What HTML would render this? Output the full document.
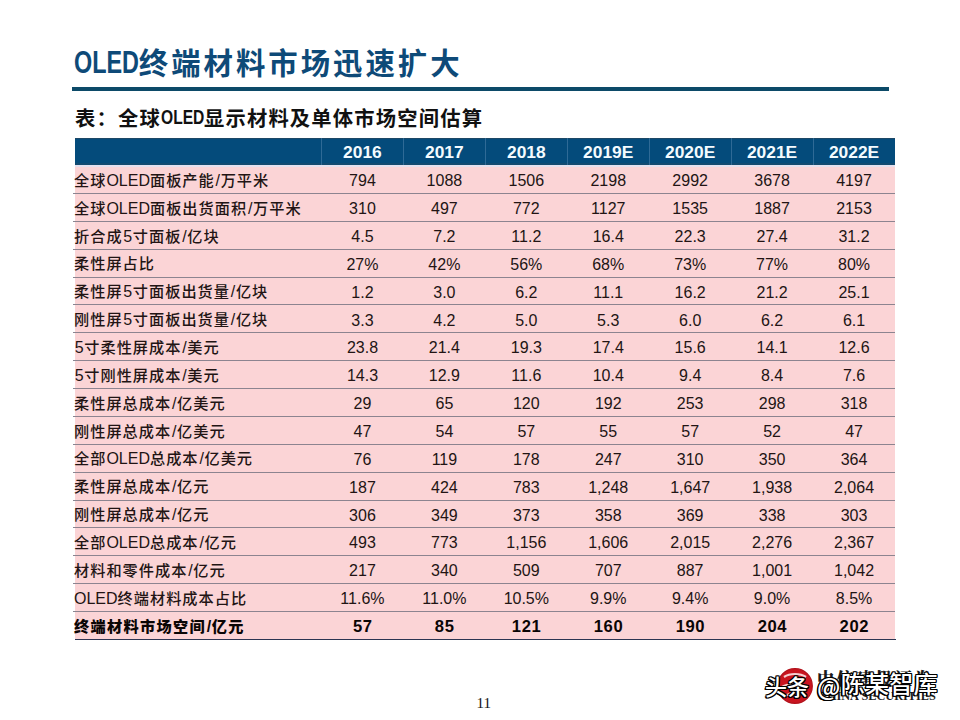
<!DOCTYPE html>
<html lang="zh-CN"><head><meta charset="utf-8">
<title>OLED终端材料市场迅速扩大</title>
<style>
html,body{margin:0;padding:0;background:#fff;}
body{width:960px;height:720px;position:relative;overflow:hidden;font-family:"Liberation Sans","Noto Sans CJK SC",sans-serif;}
div{position:absolute;box-sizing:border-box;white-space:nowrap;}
.title{left:73.75px;top:40px;font-size:32px;line-height:40px;color:#0e4a78;font-weight:bold;font-family:"Noto Sans CJK SC",sans-serif;}
.en{display:inline-block;font-family:"Liberation Sans",sans-serif;font-weight:bold;transform-origin:0 50%;overflow:visible;}
.title .en{width:65px;font-size:31.8px;transform:scaleX(.735);vertical-align:top;line-height:40px;position:relative;top:2.3px;}
.title .cj{font-size:29.4px;letter-spacing:3px;vertical-align:top;line-height:40px;position:relative;top:1px;}
.rule{left:72px;top:87px;width:816.5px;height:3.7px;background:#0c4a68;}
.sub{left:75px;top:103px;font-size:21.5px;line-height:28px;color:#111;font-weight:bold;font-family:"Noto Sans CJK SC",sans-serif;}
.sub .en{width:43px;font-size:20px;transform:scaleX(.78);vertical-align:top;line-height:28px;position:relative;top:0.3px;}
.sub .cj{font-size:20.3px;letter-spacing:1.2px;vertical-align:top;line-height:28px;}
.hd{background:#044b7b;border-top:1px solid #1d4866;border-bottom:2px solid #124a70;}
.hw{height:1.7px;background:#e4e0ee;}
.vs{width:1px;background:#2f6a96;}
.ht{text-align:center;color:#f4fbff;font-weight:bold;font-size:17.4px;padding-top:1px;}
.bd{background:#fbd4d6;}
.hl{height:1px;background:#8c8490;}
.bb{height:1.3px;background:#2c3552;}
.lb{font-size:16px;color:#221414;padding-top:1.6px;margin-left:-1px;}
.lb .c{font-size:15.2px;letter-spacing:1px;font-weight:500;}
.lb .sl{margin:0 0.6px 0 0.9px;}
.lb .dg{margin:0 0.7px;}
.lb.b{padding-top:2.1px;}
.lb.b .c{font-weight:900;letter-spacing:1.3px;}
.nv.b{padding-top:2.5px;font-size:16.6px;letter-spacing:0.6px;text-indent:0.6px;}
.nv{font-size:16px;color:#221414;text-align:center;padding-top:2.1px;}
.b{font-weight:bold;color:#0a0505;}
.logo-c{left:776px;top:667.3px;width:38px;height:38px;}
.logo-c svg{display:block;}
.logo-t{left:817px;top:666px;font-family:"Noto Serif CJK SC",serif;font-weight:900;font-size:17px;line-height:24px;letter-spacing:2.5px;color:#1a1a1a;}
.logo-e{left:818px;top:687.5px;font-family:"Liberation Serif",serif;font-weight:bold;font-size:12.3px;line-height:16px;letter-spacing:0px;color:#1a1a1a;}
.wm{left:765px;top:668.5px;font-family:"Noto Sans CJK SC",sans-serif;font-weight:500;font-size:22px;line-height:32px;color:#fff;
text-shadow:-1.6px 1.4px 0 #000,1px 1px 0 #000,-1px -1px 0 #000,1px -1px 0 #000,-1px 1px 0 #000,0 1px 0 #000,0 -1px 0 #000,1px 0 0 #000,-1px 0 0 #000;}
.wm.at{left:817px;top:667px;font-size:24px;letter-spacing:0.3px;}
.wm .a{position:relative;top:3px;}
.pg{left:476.5px;top:693px;font-family:"Liberation Serif",serif;font-size:15px;line-height:20px;color:#111;}
</style></head><body>
<div class="title"><span class="en">OLED</span><span class="cj">终端材料市场迅速扩大</span></div>
<div class="rule"></div>
<div class="sub"><span class="cj">表：全球</span><span class="en">OLED</span><span class="cj">显示材料及单体市场空间估算</span></div>
<div class="hd" style="left:75px;top:138px;width:820px;height:27.3px"></div>
<div class="vs" style="left:321px;top:138px;height:27.3px"></div>
<div class="ht" style="left:321.5px;top:138px;width:81.93px;height:27.3px;line-height:27.3px">2016</div>
<div class="vs" style="left:402.93px;top:138px;height:27.3px"></div>
<div class="ht" style="left:403.43px;top:138px;width:81.93px;height:27.3px;line-height:27.3px">2017</div>
<div class="vs" style="left:484.86px;top:138px;height:27.3px"></div>
<div class="ht" style="left:485.36px;top:138px;width:81.93px;height:27.3px;line-height:27.3px">2018</div>
<div class="vs" style="left:566.79px;top:138px;height:27.3px"></div>
<div class="ht" style="left:567.29px;top:138px;width:81.93px;height:27.3px;line-height:27.3px">2019E</div>
<div class="vs" style="left:648.71px;top:138px;height:27.3px"></div>
<div class="ht" style="left:649.21px;top:138px;width:81.93px;height:27.3px;line-height:27.3px">2020E</div>
<div class="vs" style="left:730.64px;top:138px;height:27.3px"></div>
<div class="ht" style="left:731.14px;top:138px;width:81.93px;height:27.3px;line-height:27.3px">2021E</div>
<div class="vs" style="left:812.57px;top:138px;height:27.3px"></div>
<div class="ht" style="left:813.07px;top:138px;width:81.93px;height:27.3px;line-height:27.3px">2022E</div>
<div class="bd" style="left:75px;top:165.3px;width:820px;height:473.45px"></div>
<div class="lb" style="left:75px;top:165.3px;height:27.85px;line-height:27.85px"><span class="c">全球</span>OLED<span class="c">面板产能</span><span class="sl">/</span><span class="c">万平米</span></div>
<div class="nv" style="left:321.5px;top:165.3px;width:81.93px;height:27.85px;line-height:27.85px">794</div>
<div class="nv" style="left:403.43px;top:165.3px;width:81.93px;height:27.85px;line-height:27.85px">1088</div>
<div class="nv" style="left:485.36px;top:165.3px;width:81.93px;height:27.85px;line-height:27.85px">1506</div>
<div class="nv" style="left:567.29px;top:165.3px;width:81.93px;height:27.85px;line-height:27.85px">2198</div>
<div class="nv" style="left:649.21px;top:165.3px;width:81.93px;height:27.85px;line-height:27.85px">2992</div>
<div class="nv" style="left:731.14px;top:165.3px;width:81.93px;height:27.85px;line-height:27.85px">3678</div>
<div class="nv" style="left:813.07px;top:165.3px;width:81.93px;height:27.85px;line-height:27.85px">4197</div>
<div class="hl" style="left:73px;top:193px;width:822px"></div>
<div class="lb" style="left:75px;top:193.15px;height:27.85px;line-height:27.85px"><span class="c">全球</span>OLED<span class="c">面板出货面积</span><span class="sl">/</span><span class="c">万平米</span></div>
<div class="nv" style="left:321.5px;top:193.15px;width:81.93px;height:27.85px;line-height:27.85px">310</div>
<div class="nv" style="left:403.43px;top:193.15px;width:81.93px;height:27.85px;line-height:27.85px">497</div>
<div class="nv" style="left:485.36px;top:193.15px;width:81.93px;height:27.85px;line-height:27.85px">772</div>
<div class="nv" style="left:567.29px;top:193.15px;width:81.93px;height:27.85px;line-height:27.85px">1127</div>
<div class="nv" style="left:649.21px;top:193.15px;width:81.93px;height:27.85px;line-height:27.85px">1535</div>
<div class="nv" style="left:731.14px;top:193.15px;width:81.93px;height:27.85px;line-height:27.85px">1887</div>
<div class="nv" style="left:813.07px;top:193.15px;width:81.93px;height:27.85px;line-height:27.85px">2153</div>
<div class="hl" style="left:73px;top:220.87px;width:822px"></div>
<div class="lb" style="left:75px;top:221px;height:27.85px;line-height:27.85px"><span class="c">折合成</span><span class="dg">5</span><span class="c">寸面板</span><span class="sl">/</span><span class="c">亿块</span></div>
<div class="nv" style="left:321.5px;top:221px;width:81.93px;height:27.85px;line-height:27.85px">4.5</div>
<div class="nv" style="left:403.43px;top:221px;width:81.93px;height:27.85px;line-height:27.85px">7.2</div>
<div class="nv" style="left:485.36px;top:221px;width:81.93px;height:27.85px;line-height:27.85px">11.2</div>
<div class="nv" style="left:567.29px;top:221px;width:81.93px;height:27.85px;line-height:27.85px">16.4</div>
<div class="nv" style="left:649.21px;top:221px;width:81.93px;height:27.85px;line-height:27.85px">22.3</div>
<div class="nv" style="left:731.14px;top:221px;width:81.93px;height:27.85px;line-height:27.85px">27.4</div>
<div class="nv" style="left:813.07px;top:221px;width:81.93px;height:27.85px;line-height:27.85px">31.2</div>
<div class="hl" style="left:73px;top:248.74px;width:822px"></div>
<div class="lb" style="left:75px;top:248.85px;height:27.85px;line-height:27.85px"><span class="c">柔性屏占比</span></div>
<div class="nv" style="left:321.5px;top:248.85px;width:81.93px;height:27.85px;line-height:27.85px">27%</div>
<div class="nv" style="left:403.43px;top:248.85px;width:81.93px;height:27.85px;line-height:27.85px">42%</div>
<div class="nv" style="left:485.36px;top:248.85px;width:81.93px;height:27.85px;line-height:27.85px">56%</div>
<div class="nv" style="left:567.29px;top:248.85px;width:81.93px;height:27.85px;line-height:27.85px">68%</div>
<div class="nv" style="left:649.21px;top:248.85px;width:81.93px;height:27.85px;line-height:27.85px">73%</div>
<div class="nv" style="left:731.14px;top:248.85px;width:81.93px;height:27.85px;line-height:27.85px">77%</div>
<div class="nv" style="left:813.07px;top:248.85px;width:81.93px;height:27.85px;line-height:27.85px">80%</div>
<div class="hl" style="left:73px;top:276.61px;width:822px"></div>
<div class="lb" style="left:75px;top:276.7px;height:27.85px;line-height:27.85px"><span class="c">柔性屏</span><span class="dg">5</span><span class="c">寸面板出货量</span><span class="sl">/</span><span class="c">亿块</span></div>
<div class="nv" style="left:321.5px;top:276.7px;width:81.93px;height:27.85px;line-height:27.85px">1.2</div>
<div class="nv" style="left:403.43px;top:276.7px;width:81.93px;height:27.85px;line-height:27.85px">3.0</div>
<div class="nv" style="left:485.36px;top:276.7px;width:81.93px;height:27.85px;line-height:27.85px">6.2</div>
<div class="nv" style="left:567.29px;top:276.7px;width:81.93px;height:27.85px;line-height:27.85px">11.1</div>
<div class="nv" style="left:649.21px;top:276.7px;width:81.93px;height:27.85px;line-height:27.85px">16.2</div>
<div class="nv" style="left:731.14px;top:276.7px;width:81.93px;height:27.85px;line-height:27.85px">21.2</div>
<div class="nv" style="left:813.07px;top:276.7px;width:81.93px;height:27.85px;line-height:27.85px">25.1</div>
<div class="hl" style="left:73px;top:304.48px;width:822px"></div>
<div class="lb" style="left:75px;top:304.55px;height:27.85px;line-height:27.85px"><span class="c">刚性屏</span><span class="dg">5</span><span class="c">寸面板出货量</span><span class="sl">/</span><span class="c">亿块</span></div>
<div class="nv" style="left:321.5px;top:304.55px;width:81.93px;height:27.85px;line-height:27.85px">3.3</div>
<div class="nv" style="left:403.43px;top:304.55px;width:81.93px;height:27.85px;line-height:27.85px">4.2</div>
<div class="nv" style="left:485.36px;top:304.55px;width:81.93px;height:27.85px;line-height:27.85px">5.0</div>
<div class="nv" style="left:567.29px;top:304.55px;width:81.93px;height:27.85px;line-height:27.85px">5.3</div>
<div class="nv" style="left:649.21px;top:304.55px;width:81.93px;height:27.85px;line-height:27.85px">6.0</div>
<div class="nv" style="left:731.14px;top:304.55px;width:81.93px;height:27.85px;line-height:27.85px">6.2</div>
<div class="nv" style="left:813.07px;top:304.55px;width:81.93px;height:27.85px;line-height:27.85px">6.1</div>
<div class="hl" style="left:73px;top:332.35px;width:822px"></div>
<div class="lb" style="left:75px;top:332.4px;height:27.85px;line-height:27.85px"><span class="dg">5</span><span class="c">寸柔性屏成本</span><span class="sl">/</span><span class="c">美元</span></div>
<div class="nv" style="left:321.5px;top:332.4px;width:81.93px;height:27.85px;line-height:27.85px">23.8</div>
<div class="nv" style="left:403.43px;top:332.4px;width:81.93px;height:27.85px;line-height:27.85px">21.4</div>
<div class="nv" style="left:485.36px;top:332.4px;width:81.93px;height:27.85px;line-height:27.85px">19.3</div>
<div class="nv" style="left:567.29px;top:332.4px;width:81.93px;height:27.85px;line-height:27.85px">17.4</div>
<div class="nv" style="left:649.21px;top:332.4px;width:81.93px;height:27.85px;line-height:27.85px">15.6</div>
<div class="nv" style="left:731.14px;top:332.4px;width:81.93px;height:27.85px;line-height:27.85px">14.1</div>
<div class="nv" style="left:813.07px;top:332.4px;width:81.93px;height:27.85px;line-height:27.85px">12.6</div>
<div class="hl" style="left:73px;top:360.22px;width:822px"></div>
<div class="lb" style="left:75px;top:360.25px;height:27.85px;line-height:27.85px"><span class="dg">5</span><span class="c">寸刚性屏成本</span><span class="sl">/</span><span class="c">美元</span></div>
<div class="nv" style="left:321.5px;top:360.25px;width:81.93px;height:27.85px;line-height:27.85px">14.3</div>
<div class="nv" style="left:403.43px;top:360.25px;width:81.93px;height:27.85px;line-height:27.85px">12.9</div>
<div class="nv" style="left:485.36px;top:360.25px;width:81.93px;height:27.85px;line-height:27.85px">11.6</div>
<div class="nv" style="left:567.29px;top:360.25px;width:81.93px;height:27.85px;line-height:27.85px">10.4</div>
<div class="nv" style="left:649.21px;top:360.25px;width:81.93px;height:27.85px;line-height:27.85px">9.4</div>
<div class="nv" style="left:731.14px;top:360.25px;width:81.93px;height:27.85px;line-height:27.85px">8.4</div>
<div class="nv" style="left:813.07px;top:360.25px;width:81.93px;height:27.85px;line-height:27.85px">7.6</div>
<div class="hl" style="left:73px;top:388.09px;width:822px"></div>
<div class="lb" style="left:75px;top:388.1px;height:27.85px;line-height:27.85px"><span class="c">柔性屏总成本</span><span class="sl">/</span><span class="c">亿美元</span></div>
<div class="nv" style="left:321.5px;top:388.1px;width:81.93px;height:27.85px;line-height:27.85px">29</div>
<div class="nv" style="left:403.43px;top:388.1px;width:81.93px;height:27.85px;line-height:27.85px">65</div>
<div class="nv" style="left:485.36px;top:388.1px;width:81.93px;height:27.85px;line-height:27.85px">120</div>
<div class="nv" style="left:567.29px;top:388.1px;width:81.93px;height:27.85px;line-height:27.85px">192</div>
<div class="nv" style="left:649.21px;top:388.1px;width:81.93px;height:27.85px;line-height:27.85px">253</div>
<div class="nv" style="left:731.14px;top:388.1px;width:81.93px;height:27.85px;line-height:27.85px">298</div>
<div class="nv" style="left:813.07px;top:388.1px;width:81.93px;height:27.85px;line-height:27.85px">318</div>
<div class="hl" style="left:73px;top:415.96px;width:822px"></div>
<div class="lb" style="left:75px;top:415.95px;height:27.85px;line-height:27.85px"><span class="c">刚性屏总成本</span><span class="sl">/</span><span class="c">亿美元</span></div>
<div class="nv" style="left:321.5px;top:415.95px;width:81.93px;height:27.85px;line-height:27.85px">47</div>
<div class="nv" style="left:403.43px;top:415.95px;width:81.93px;height:27.85px;line-height:27.85px">54</div>
<div class="nv" style="left:485.36px;top:415.95px;width:81.93px;height:27.85px;line-height:27.85px">57</div>
<div class="nv" style="left:567.29px;top:415.95px;width:81.93px;height:27.85px;line-height:27.85px">55</div>
<div class="nv" style="left:649.21px;top:415.95px;width:81.93px;height:27.85px;line-height:27.85px">57</div>
<div class="nv" style="left:731.14px;top:415.95px;width:81.93px;height:27.85px;line-height:27.85px">52</div>
<div class="nv" style="left:813.07px;top:415.95px;width:81.93px;height:27.85px;line-height:27.85px">47</div>
<div class="hl" style="left:73px;top:443.83px;width:822px"></div>
<div class="lb" style="left:75px;top:443.8px;height:27.85px;line-height:27.85px"><span class="c">全部</span>OLED<span class="c">总成本</span><span class="sl">/</span><span class="c">亿美元</span></div>
<div class="nv" style="left:321.5px;top:443.8px;width:81.93px;height:27.85px;line-height:27.85px">76</div>
<div class="nv" style="left:403.43px;top:443.8px;width:81.93px;height:27.85px;line-height:27.85px">119</div>
<div class="nv" style="left:485.36px;top:443.8px;width:81.93px;height:27.85px;line-height:27.85px">178</div>
<div class="nv" style="left:567.29px;top:443.8px;width:81.93px;height:27.85px;line-height:27.85px">247</div>
<div class="nv" style="left:649.21px;top:443.8px;width:81.93px;height:27.85px;line-height:27.85px">310</div>
<div class="nv" style="left:731.14px;top:443.8px;width:81.93px;height:27.85px;line-height:27.85px">350</div>
<div class="nv" style="left:813.07px;top:443.8px;width:81.93px;height:27.85px;line-height:27.85px">364</div>
<div class="hl" style="left:73px;top:471.7px;width:822px"></div>
<div class="lb" style="left:75px;top:471.65px;height:27.85px;line-height:27.85px"><span class="c">柔性屏总成本</span><span class="sl">/</span><span class="c">亿元</span></div>
<div class="nv" style="left:321.5px;top:471.65px;width:81.93px;height:27.85px;line-height:27.85px">187</div>
<div class="nv" style="left:403.43px;top:471.65px;width:81.93px;height:27.85px;line-height:27.85px">424</div>
<div class="nv" style="left:485.36px;top:471.65px;width:81.93px;height:27.85px;line-height:27.85px">783</div>
<div class="nv" style="left:567.29px;top:471.65px;width:81.93px;height:27.85px;line-height:27.85px">1,248</div>
<div class="nv" style="left:649.21px;top:471.65px;width:81.93px;height:27.85px;line-height:27.85px">1,647</div>
<div class="nv" style="left:731.14px;top:471.65px;width:81.93px;height:27.85px;line-height:27.85px">1,938</div>
<div class="nv" style="left:813.07px;top:471.65px;width:81.93px;height:27.85px;line-height:27.85px">2,064</div>
<div class="hl" style="left:73px;top:499.57px;width:822px"></div>
<div class="lb" style="left:75px;top:499.5px;height:27.85px;line-height:27.85px"><span class="c">刚性屏总成本</span><span class="sl">/</span><span class="c">亿元</span></div>
<div class="nv" style="left:321.5px;top:499.5px;width:81.93px;height:27.85px;line-height:27.85px">306</div>
<div class="nv" style="left:403.43px;top:499.5px;width:81.93px;height:27.85px;line-height:27.85px">349</div>
<div class="nv" style="left:485.36px;top:499.5px;width:81.93px;height:27.85px;line-height:27.85px">373</div>
<div class="nv" style="left:567.29px;top:499.5px;width:81.93px;height:27.85px;line-height:27.85px">358</div>
<div class="nv" style="left:649.21px;top:499.5px;width:81.93px;height:27.85px;line-height:27.85px">369</div>
<div class="nv" style="left:731.14px;top:499.5px;width:81.93px;height:27.85px;line-height:27.85px">338</div>
<div class="nv" style="left:813.07px;top:499.5px;width:81.93px;height:27.85px;line-height:27.85px">303</div>
<div class="hl" style="left:73px;top:527.44px;width:822px"></div>
<div class="lb" style="left:75px;top:527.35px;height:27.85px;line-height:27.85px"><span class="c">全部</span>OLED<span class="c">总成本</span><span class="sl">/</span><span class="c">亿元</span></div>
<div class="nv" style="left:321.5px;top:527.35px;width:81.93px;height:27.85px;line-height:27.85px">493</div>
<div class="nv" style="left:403.43px;top:527.35px;width:81.93px;height:27.85px;line-height:27.85px">773</div>
<div class="nv" style="left:485.36px;top:527.35px;width:81.93px;height:27.85px;line-height:27.85px">1,156</div>
<div class="nv" style="left:567.29px;top:527.35px;width:81.93px;height:27.85px;line-height:27.85px">1,606</div>
<div class="nv" style="left:649.21px;top:527.35px;width:81.93px;height:27.85px;line-height:27.85px">2,015</div>
<div class="nv" style="left:731.14px;top:527.35px;width:81.93px;height:27.85px;line-height:27.85px">2,276</div>
<div class="nv" style="left:813.07px;top:527.35px;width:81.93px;height:27.85px;line-height:27.85px">2,367</div>
<div class="hl" style="left:73px;top:555.31px;width:822px"></div>
<div class="lb" style="left:75px;top:555.2px;height:27.85px;line-height:27.85px"><span class="c">材料和零件成本</span><span class="sl">/</span><span class="c">亿元</span></div>
<div class="nv" style="left:321.5px;top:555.2px;width:81.93px;height:27.85px;line-height:27.85px">217</div>
<div class="nv" style="left:403.43px;top:555.2px;width:81.93px;height:27.85px;line-height:27.85px">340</div>
<div class="nv" style="left:485.36px;top:555.2px;width:81.93px;height:27.85px;line-height:27.85px">509</div>
<div class="nv" style="left:567.29px;top:555.2px;width:81.93px;height:27.85px;line-height:27.85px">707</div>
<div class="nv" style="left:649.21px;top:555.2px;width:81.93px;height:27.85px;line-height:27.85px">887</div>
<div class="nv" style="left:731.14px;top:555.2px;width:81.93px;height:27.85px;line-height:27.85px">1,001</div>
<div class="nv" style="left:813.07px;top:555.2px;width:81.93px;height:27.85px;line-height:27.85px">1,042</div>
<div class="hl" style="left:73px;top:583.18px;width:822px"></div>
<div class="lb" style="left:75px;top:583.05px;height:27.85px;line-height:27.85px">OLED<span class="c">终端材料成本占比</span></div>
<div class="nv" style="left:321.5px;top:583.05px;width:81.93px;height:27.85px;line-height:27.85px">11.6%</div>
<div class="nv" style="left:403.43px;top:583.05px;width:81.93px;height:27.85px;line-height:27.85px">11.0%</div>
<div class="nv" style="left:485.36px;top:583.05px;width:81.93px;height:27.85px;line-height:27.85px">10.5%</div>
<div class="nv" style="left:567.29px;top:583.05px;width:81.93px;height:27.85px;line-height:27.85px">9.9%</div>
<div class="nv" style="left:649.21px;top:583.05px;width:81.93px;height:27.85px;line-height:27.85px">9.4%</div>
<div class="nv" style="left:731.14px;top:583.05px;width:81.93px;height:27.85px;line-height:27.85px">9.0%</div>
<div class="nv" style="left:813.07px;top:583.05px;width:81.93px;height:27.85px;line-height:27.85px">8.5%</div>
<div class="hl" style="left:73px;top:611.05px;width:822px"></div>
<div class="lb b" style="left:75px;top:610.9px;height:27.85px;line-height:27.85px"><span class="c">终端材料市场空间</span><span class="sl">/</span><span class="c">亿元</span></div>
<div class="nv b" style="left:321.5px;top:610.9px;width:81.93px;height:27.85px;line-height:27.85px">57</div>
<div class="nv b" style="left:403.43px;top:610.9px;width:81.93px;height:27.85px;line-height:27.85px">85</div>
<div class="nv b" style="left:485.36px;top:610.9px;width:81.93px;height:27.85px;line-height:27.85px">121</div>
<div class="nv b" style="left:567.29px;top:610.9px;width:81.93px;height:27.85px;line-height:27.85px">160</div>
<div class="nv b" style="left:649.21px;top:610.9px;width:81.93px;height:27.85px;line-height:27.85px">190</div>
<div class="nv b" style="left:731.14px;top:610.9px;width:81.93px;height:27.85px;line-height:27.85px">204</div>
<div class="nv b" style="left:813.07px;top:610.9px;width:81.93px;height:27.85px;line-height:27.85px">202</div>
<div class="hw" style="left:75px;top:165.3px;width:820px"></div>
<div class="bb" style="left:75px;top:638.8px;width:821px"></div>
<div class="pg">11</div>
<div class="logo-c"><svg width="38" height="38" viewBox="0 0 38 38"><circle cx="19" cy="19" r="17.3" fill="#c9141f" stroke="#b3121c" stroke-width="1.2"/><path d="M8 10 C14 6 24 6 30 10 M6 20 C12 16 26 16 32 20 M9 29 C15 25 23 25 29 29" stroke="#f6d0d2" stroke-width="2.2" fill="none"/></svg></div>
<div class="logo-t">中信建投证券</div>
<div class="logo-e">CHINA SECURITIES</div>
<div class="wm">头条</div><div class="wm at"><span class="a">@</span>陈某智库</div>
</body></html>
